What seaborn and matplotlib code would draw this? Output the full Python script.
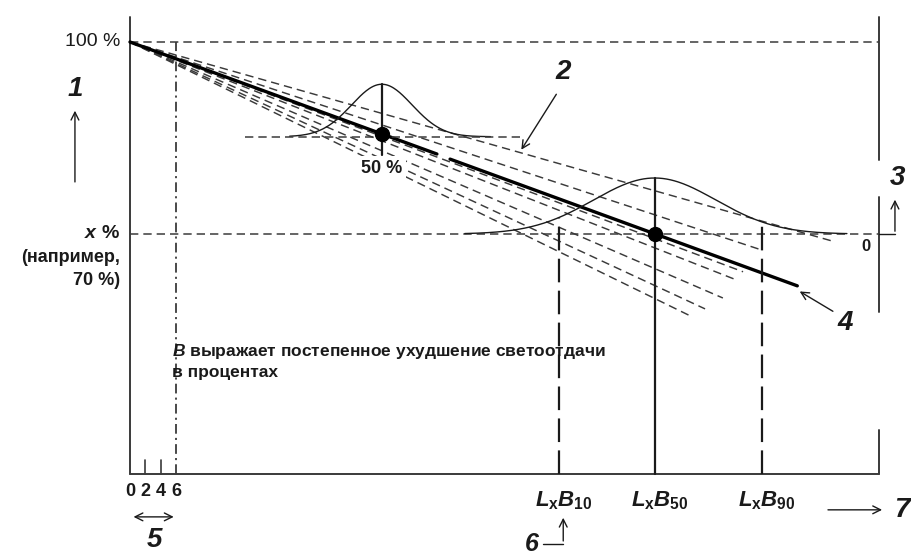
import numpy as np
import pandas as pd
import matplotlib
matplotlib.use("Agg")
import matplotlib.pyplot as plt
import seaborn as sns

# ---------------- data (time units / luminous flux %) ----------------
t_max = 96.6            # right end of time axis
y_floor = 32.5          # flux level at the time axis
y_top = 103.9           # top of the vertical axes
x_pct = 70.0            # "x %" level
time_ticks = [0, 2, 4, 6]
time_tick_labels = ["0", "2", "4", "6"]
t_b10, t_b50, t_b90 = 55.4, 67.7, 81.5
b_labels = [r"$L_{\mathrm{x}}B_{10}$", r"$L_{\mathrm{x}}B_{50}$", r"$L_{\mathrm{x}}B_{90}$"]

dist1_center, dist1_base, dist1_peak, dist1_sigma = 32.5, 85.2, 93.4, 3.9
dist1_lo, dist1_hi = 20.6, 46.5
dist1_line_lo, dist1_line_hi = 14.8, 50.3
dist1_stem_bottom = 82.3
dist2_center, dist2_base, dist2_peak, dist2_sigma = 67.7, 70.0, 78.75, 7.9
dist2_lo, dist2_hi = 43.2, 92.5

main_t = [0.0, 39.6, 41.3, 86.1]
main_y = [100.0, 82.5, 81.7, 61.9]
fan_end_t = [90.6, 81.5, 79.1, 78.3, 76.5, 74.2, 72.3]
fan_end_y = [68.9, 67.5, 64.1, 62.8, 60.0, 58.3, 57.2]
right_segments = [(103.9, 81.6), (75.8, 57.8), (39.4, 32.5)]

# ---------------- style ----------------
sns.set_theme(style="white")
plt.rcParams['font.family'] = ['Liberation Sans', 'DejaVu Sans']
plt.rcParams['mathtext.fontset'] = 'custom'
plt.rcParams['mathtext.rm'] = 'Liberation Sans:bold'
plt.rcParams['mathtext.it'] = 'Liberation Sans:italic:bold'
plt.rcParams['mathtext.bf'] = 'Liberation Sans:bold'
plt.rcParams['lines.scale_dashes'] = False

INK = '#1a1a1a'
GREY = '#3a3a3a'

fig = plt.figure(figsize=(9.11, 5.58), dpi=100)
ax = fig.add_axes([0, 0, 1, 1])
ax.set_xlim(-16.77, 100.77)
ax.set_ylim(19.375, 106.5625)
ax.axis('off')

dash = (0, (6.0, 3.6))
longdash = (0, (17, 6))

# frame
ax.plot([0, 0], [y_floor, y_top], color=GREY, lw=1.4)
ax.plot([0, t_max], [y_floor, y_floor], color=GREY, lw=1.4)
for a, b in right_segments:
    ax.plot([t_max, t_max], [a, b], color=GREY, lw=1.4)
for tk in time_ticks[1:3]:
    ax.plot([tk, tk], [y_floor, 34.7], color=GREY, lw=1.2)

# reference horizontals
ax.plot([0, t_max], [100, 100], color=GREY, lw=1.1, ls=dash)
ax.plot([0, t_max], [x_pct, x_pct], color=GREY, lw=1.1, ls=dash)
# dash-dot at t = 6
ax.plot([time_ticks[3], time_ticks[3]], [y_floor, 100], color=GREY, lw=1.3,
        ls=(0, (7, 3, 1.5, 3)))

# fan of dashed degradation lines
for te, ye in zip(fan_end_t, fan_end_y):
    ax.plot([0, te], [100, ye], color=GREY, lw=1.05, ls=dash)

# main thick line
sns.lineplot(x=main_t[:2], y=main_y[:2], ax=ax, color='black', lw=2.4,
             estimator=None, sort=False)
sns.lineplot(x=main_t[2:], y=main_y[2:], ax=ax, color='black', lw=2.4,
             estimator=None, sort=False)

# distribution 1
t1 = np.linspace(dist1_lo, dist1_hi, 200)
g1 = dist1_base + (dist1_peak - dist1_base) * np.exp(-0.5 * ((t1 - dist1_center) / dist1_sigma) ** 2)
sns.lineplot(x=t1, y=g1, ax=ax, color=INK, lw=1.0, estimator=None, sort=False)
ax.plot([dist1_line_lo, dist1_line_hi], [dist1_base, dist1_base], color=GREY, lw=1.1, ls=dash)
ax.plot([dist1_center, dist1_center], [dist1_stem_bottom, dist1_peak], color=INK, lw=1.6)
ax.plot([dist1_center], [main_y[0] + (main_y[1]-main_y[0]) * dist1_center / main_t[1]],
        'o', color='black', ms=10)

# distribution 2
t2 = np.linspace(dist2_lo, dist2_hi, 300)
g2 = dist2_base + (dist2_peak - dist2_base) * np.exp(-0.5 * ((t2 - dist2_center) / dist2_sigma) ** 2)
sns.lineplot(x=t2, y=g2, ax=ax, color=INK, lw=1.0, estimator=None, sort=False)
ax.plot([dist2_center, dist2_center], [y_floor, dist2_peak], color=INK, lw=1.6)
ax.plot([dist2_center], [x_pct], 'o', color='black', ms=10)
for tb in (t_b10, t_b90):
    top = dist2_base + (dist2_peak - dist2_base) * np.exp(-0.5 * ((tb - dist2_center) / dist2_sigma) ** 2)
    ax.plot([tb, tb], [y_floor, top], color=INK, lw=1.6, ls=longdash)

# ---------------- texts ----------------
tkw = dict(color=INK)
ax.text(-1.3, 100, "100 %", ha='right', va='center', fontsize=14, **tkw)
ax.text(-1.3, x_pct, r"$x$ %", ha='right', va='center', fontsize=14, fontweight='bold', **tkw)
ax.text(-1.3, 66.4, "(например,", ha='right', va='center', fontsize=13, fontweight='bold', **tkw)
ax.text(-1.3, 62.8, "70 %)", ha='right', va='center', fontsize=13, fontweight='bold', **tkw)
ax.text(dist1_center, 80.3, "50 %", ha='center', va='center', fontsize=13, fontweight='bold',
        bbox=dict(facecolor='white', edgecolor='none', pad=2.5), zorder=5, **tkw)
ax.text(95.0, 68.0, "0", ha='center', va='center', fontsize=12, fontweight='bold', **tkw)
ax.text(5.4, 51.6, r"$B$ выражает постепенное ухудшение светоотдачи", ha='left', va='center',
        fontsize=12.5, fontweight='bold', **tkw)
ax.text(5.4, 48.4, "в процентах", ha='left', va='center', fontsize=12.5, fontweight='bold', **tkw)

for tk, lab in zip(time_ticks, time_tick_labels):
    ax.text(tk, 29.7, lab, ha='center', va='center', fontsize=13, fontweight='bold', **tkw)
for tb, lab in zip((t_b10, t_b50, t_b90), b_labels):
    ax.text(tb + 0.6, 28.4, lab, ha='center', va='center', fontsize=16, **tkw)

big = dict(fontsize=20, fontweight='bold', fontstyle='italic', ha='center', va='center', color=INK)
ax.text(-7.1, 92.6, "1", **big)
ax.text(55.9, 95.3, "2", **big)
ax.text(99.0, 78.75, "3", **big)
ax.text(92.3, 56.1, "4", **big)
ax.text(3.2, 22.2, "5", **big)
ax.text(51.9, 21.6, "6", fontsize=18, fontweight='bold', fontstyle='italic',
        ha='center', va='center', color=INK)
ax.text(99.6, 26.9, "7", **big)

akw = dict(arrowstyle='->', color=INK, lw=1.0, mutation_scale=14)
ax.annotate("", xy=(-7.1, 89.7), xytext=(-7.1, 77.7), arrowprops=akw)
ax.annotate("", xy=(50.3, 82.8), xytext=(55.2, 92.2), arrowprops=akw)
ax.annotate("", xy=(86.1, 61.25), xytext=(91.0, 57.7), arrowprops=akw)
ax.annotate("", xy=(97.4, 26.9), xytext=(89.7, 26.9), arrowprops=akw)
ax.annotate("", xy=(6.0, 25.8), xytext=(0.1, 25.8),
            arrowprops=dict(arrowstyle='<->', color=INK, lw=1.0, mutation_scale=14))
# "3" hook
ax.plot([t_max, 98.7], [x_pct, x_pct], color=INK, lw=1.0)
ax.annotate("", xy=(98.7, 75.8), xytext=(98.7, x_pct), arrowprops=akw)
# "6" hook
ax.plot([53.3, 55.9], [21.6, 21.6], color=INK, lw=1.0)
ax.annotate("", xy=(55.9, 26.1), xytext=(55.9, 21.6), arrowprops=akw)

fig.savefig("out.png", dpi=100)
